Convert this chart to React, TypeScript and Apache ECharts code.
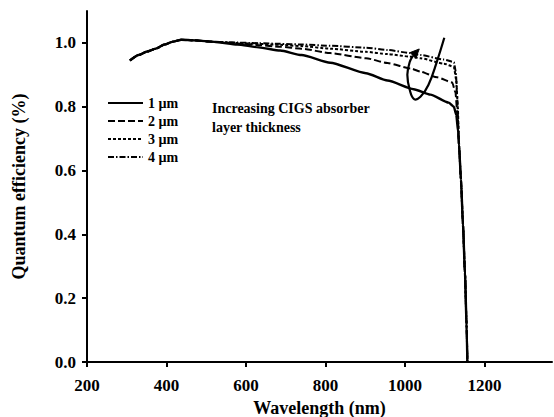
import React, { useEffect, useRef } from "react";
import * as echarts from "echarts";

const wavelengthTicks = [200, 400, 600, 800, 1000, 1200];
const qeTicks = [0, 0.2, 0.4, 0.6, 0.8, 1.0];
const seriesNames = ["1 µm", "2 µm", "3 µm", "4 µm"];

// shared blue/UV part (all thicknesses coincide)
const commonWl = [308, 330, 351, 373, 395, 416, 438, 470, 524];
const commonQe = [0.945, 0.962, 0.973, 0.982, 0.995, 1.004, 1.01, 1.008, 1.003];

// shared absorption-edge tail
const tailWl = [1136, 1141, 1146, 1151, 1155, 1157];
const tailQe = [0.68, 0.57, 0.43, 0.28, 0.12, 0.0];

const wl1 = [578, 632, 686, 740, 812, 902, 956, 1022, 1064, 1110, 1123, 1129, 1134];
const qe1 = [0.995, 0.986, 0.976, 0.962, 0.938, 0.905, 0.882, 0.855, 0.838, 0.813, 0.8, 0.775, 0.72];

const wl2 = [578, 632, 686, 740, 812, 902, 956, 1014, 1039, 1081, 1119, 1127, 1133];
const qe2 = [0.998, 0.993, 0.988, 0.982, 0.968, 0.952, 0.937, 0.92, 0.91, 0.892, 0.876, 0.845, 0.76];

const wl3 = [578, 632, 686, 740, 812, 902, 956, 1014, 1039, 1098, 1123, 1129, 1133];
const qe3 = [1.0, 0.997, 0.994, 0.99, 0.982, 0.972, 0.965, 0.957, 0.952, 0.935, 0.925, 0.885, 0.8];

const wl4 = [578, 632, 686, 740, 812, 902, 956, 1014, 1039, 1098, 1123, 1128, 1131];
const qe4 = [1.001, 0.999, 0.997, 0.995, 0.991, 0.985, 0.978, 0.968, 0.962, 0.948, 0.94, 0.91, 0.84];

// annotation loop arrow, in data coordinates (nm, QE)
const arrowWl = [1099, 1080, 1059, 1039, 1023, 1012, 1006, 1012, 1021, 1036];
const arrowQe = [1.016, 0.94, 0.868, 0.831, 0.824, 0.853, 0.9, 0.94, 0.962, 0.981];

const FONT = "'Liberation Serif', 'Times New Roman', serif";

function build(wl: number[], qe: number[]): [number, number][] {
  const xs = [...commonWl, ...wl, ...tailWl];
  const ys = [...commonQe, ...qe, ...tailQe];
  return xs.map((x, i) => [x, ys[i]]);
}

export default function App() {
  const ref = useRef<HTMLDivElement>(null);
  useEffect(() => {
    if (!ref.current) return;
    const chart = echarts.init(ref.current, undefined, { renderer: "svg" });
    const lineTypes: any[] = ["solid", [7, 3], [3, 2], [6, 2, 1.5, 2]];
    const datasets = [build(wl1, qe1), build(wl2, qe2), build(wl3, qe3), build(wl4, qe4)];
    chart.setOption({
      animation: false,
      grid: { left: 87, right: 2, top: 11, bottom: 55, outerBoundsMode: "none", containLabel: false },
      legend: {
        data: seriesNames,
        orient: "vertical",
        left: 102,
        top: 91,
        itemWidth: 35,
        itemHeight: 12,
        itemGap: 4,
        itemStyle: { opacity: 0 },
        textStyle: { fontFamily: FONT, fontSize: 14, fontWeight: "bold", color: "#000" },
      },
      xAxis: {
        type: "value",
        min: 200,
        max: 1370,
        name: "Wavelength (nm)",
        nameLocation: "middle",
        nameGap: 36,
        nameTextStyle: { fontFamily: FONT, fontSize: 18, fontWeight: "bold", color: "#000" },
        splitLine: { show: false },
        axisLine: { lineStyle: { color: "#000", width: 2 } },
        axisTick: { show: true, length: 5, lineStyle: { color: "#000", width: 2 }, customValues: wavelengthTicks },
        axisLabel: {
          customValues: wavelengthTicks,
          formatter: (v: number) => String(v),
          fontFamily: FONT, fontSize: 17, fontWeight: "bold", color: "#000", margin: 15,
        },
      },
      yAxis: {
        type: "value",
        min: 0,
        max: 1.1,
        name: "Quantum efficiency (%)",
        nameLocation: "middle",
        nameGap: 59,
        nameTextStyle: { fontFamily: FONT, fontSize: 18, fontWeight: "bold", color: "#000" },
        splitLine: { show: false },
        axisLine: { show: true, lineStyle: { color: "#000", width: 2 } },
        axisTick: { show: true, length: 5, lineStyle: { color: "#000", width: 2 }, customValues: qeTicks },
        axisLabel: {
          customValues: qeTicks,
          formatter: (v: number) => v.toFixed(1),
          fontFamily: FONT, fontSize: 17, fontWeight: "bold", color: "#000", margin: 11,
        },
      },
      series: datasets.map((d, i) => ({
        name: seriesNames[i],
        type: "line",
        data: d,
        symbol: "none",
        smooth: 0.2,
        smoothMonotone: "x",
        lineStyle: { color: "#000", width: i === 0 ? 2.4 : 2, type: lineTypes[i] },
        itemStyle: { color: "#000" },
      })),
    });

    const pts = arrowWl.map((w, i) => chart.convertToPixel({ gridIndex: 0 }, [w, arrowQe[i]]) as number[]);
    const tip = pts[pts.length - 1];
    const prev = pts[pts.length - 2];
    const dx = tip[0] - prev[0];
    const dy = tip[1] - prev[1];
    const len = Math.hypot(dx, dy) || 1;
    const ux = dx / len, uy = dy / len;
    const bx = tip[0] - ux * 9, by = tip[1] - uy * 9;
    const px = -uy * 4, py = ux * 4;
    chart.setOption({
      graphic: [
        {
          type: "text",
          left: 212,
          top: 99,
          style: {
            text: "Increasing CIGS absorber\nlayer thickness",
            font: `bold 14px ${FONT}`,
            lineHeight: 19,
            fill: "#000",
          },
        },
        {
          type: "polyline",
          shape: { points: pts.slice(0, pts.length - 1).concat([[bx, by]]), smooth: 0.4 },
          style: { stroke: "#000", lineWidth: 2.2, fill: "none" },
        },
        {
          type: "polygon",
          shape: { points: [tip, [bx + px, by + py], [bx - px, by - py]] },
          style: { fill: "#000", stroke: "#000", lineWidth: 1 },
        },
      ],
    });
    return () => chart.dispose();
  }, []);
  return <div ref={ref} style={{ width: 554, height: 417, position: "absolute", left: 0, top: 0, background: "#fff" }} />;
}
